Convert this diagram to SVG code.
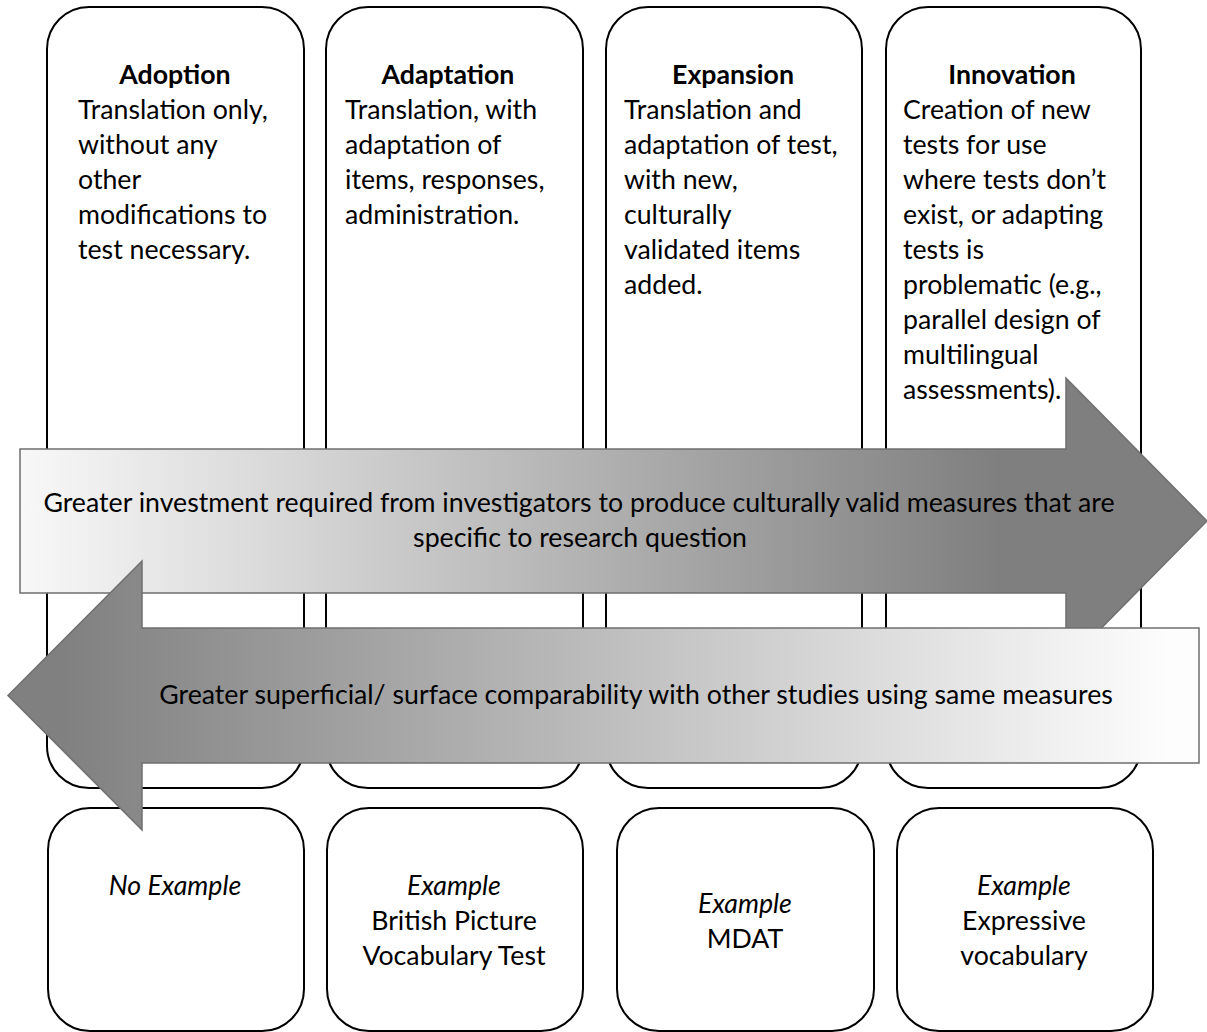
<svg xmlns="http://www.w3.org/2000/svg" width="1207" height="1032" viewBox="0 0 1207 1032">
<defs>
<style>
.box{fill:#fff;stroke:#000;stroke-width:2}
.t{font-family:Lato,"Liberation Sans",sans-serif;font-size:26.7px;fill:#000}
.b{font-weight:bold}
.i{font-style:italic}
.c{text-anchor:middle}
.arr{stroke:#6f6f6f;stroke-width:1.5}
</style>
<linearGradient id="g1" gradientUnits="userSpaceOnUse" x1="20" y1="0" x2="1000" y2="0">
<stop offset="0" stop-color="#f8f8f8"/>
<stop offset="1" stop-color="#7f7f7f"/>
</linearGradient>
<linearGradient id="g2" gradientUnits="userSpaceOnUse" x1="60" y1="0" x2="1170" y2="0">
<stop offset="0" stop-color="#808080"/>
<stop offset="1" stop-color="#fdfdfd"/>
</linearGradient>
</defs>
<rect width="1207" height="1032" fill="#fff"/>

<g id="adoption">
<rect class="box" x="47" y="7" width="257" height="781" rx="42"/>
<text class="t b c" x="175" y="84">Adoption</text>
<text class="t" x="78" y="119">Translation only,</text>
<text class="t" x="78" y="154">without any</text>
<text class="t" x="78" y="189">other</text>
<text class="t" x="78" y="224">modifications to</text>
<text class="t" x="78" y="259">test necessary.</text>
</g>
<g id="adaptation">
<rect class="box" x="326" y="7" width="257" height="781" rx="42"/>
<text class="t b c" x="448" y="84">Adaptation</text>
<text class="t" x="345" y="119">Translation, with</text>
<text class="t" x="345" y="154">adaptation of</text>
<text class="t" x="345" y="189">items, responses,</text>
<text class="t" x="345" y="224">administration.</text>
</g>
<g id="expansion">
<rect class="box" x="606" y="7" width="256" height="781" rx="42"/>
<text class="t b c" x="733" y="84">Expansion</text>
<text class="t" x="624" y="119">Translation and</text>
<text class="t" x="624" y="154">adaptation of test,</text>
<text class="t" x="624" y="189">with new,</text>
<text class="t" x="624" y="224">culturally</text>
<text class="t" x="624" y="259">validated items</text>
<text class="t" x="624" y="294">added.</text>
</g>
<g id="innovation">
<rect class="box" x="886" y="7" width="255" height="781" rx="42"/>
<text class="t b c" x="1012" y="84">Innovation</text>
<text class="t" x="903" y="119">Creation of new</text>
<text class="t" x="903" y="154">tests for use</text>
<text class="t" x="903" y="189">where tests don’t</text>
<text class="t" x="903" y="224">exist, or adapting</text>
<text class="t" x="903" y="259">tests is</text>
<text class="t" x="903" y="294">problematic (e.g.,</text>
<text class="t" x="903" y="329">parallel design of</text>
<text class="t" x="903" y="364">multilingual</text>
<text class="t" x="903" y="399">assessments).</text>
</g>

<g id="example-adoption">
<rect class="box" x="48" y="808" width="256" height="223" rx="42"/>
<text class="t i c" x="175" y="895">No Example</text>
</g>
<g id="example-adaptation">
<rect class="box" x="327" y="808" width="256" height="223" rx="42"/>
<text class="t i c" x="454" y="895">Example</text>
<text class="t c" x="454" y="930">British Picture</text>
<text class="t c" x="454" y="965">Vocabulary Test</text>
</g>
<g id="example-expansion">
<rect class="box" x="617" y="808" width="257" height="223" rx="42"/>
<text class="t i c" x="745" y="913">Example</text>
<text class="t c" x="745" y="948">MDAT</text>
</g>
<g id="example-innovation">
<rect class="box" x="897" y="808" width="256" height="223" rx="42"/>
<text class="t i c" x="1024" y="895">Example</text>
<text class="t c" x="1024" y="930">Expressive</text>
<text class="t c" x="1024" y="965">vocabulary</text>
</g>

<g id="connectors">
<g id="arrow-investment">
<path class="arr" fill="url(#g1)" d="M20,449 H1066 V378 L1207,521 L1066,664 V593 H20 Z"/>
<text class="t c" x="579" y="512">Greater investment required from investigators to produce culturally valid measures that are</text>
<text class="t c" x="580" y="547">specific to research question</text>
</g>
<g id="arrow-comparability">
<path class="arr" fill="url(#g2)" d="M1199,628 H142 V561 L8,695.5 L142,830 V763 H1199 Z"/>
<text class="t c" x="636" y="704">Greater superficial/ surface comparability with other studies using same measures</text>
</g>
</g>
</svg>
